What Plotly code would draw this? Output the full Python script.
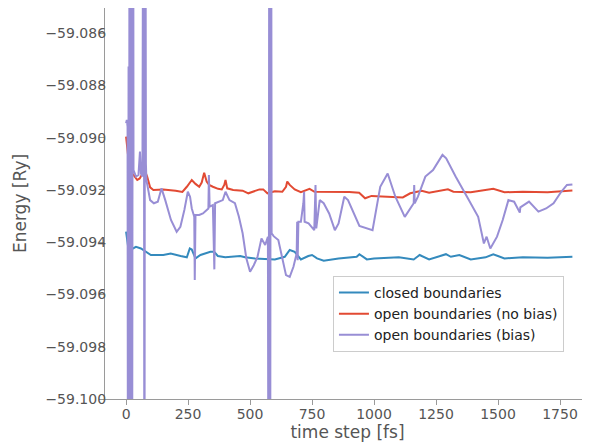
import plotly.graph_objects as go

# closed boundaries
t_closed = [0, 10, 20, 40, 60, 80, 100, 150, 180, 220, 245, 257, 265, 280, 300, 340, 355, 370, 400, 460,
            480, 520, 600, 640, 660, 680, 705, 735, 750, 770, 797, 857, 930, 941, 971, 1000, 1100, 1160,
            1184, 1222, 1290, 1310, 1344, 1390, 1450, 1481, 1526, 1600, 1700, 1800]
e_closed = [-59.09360, -59.09430, -59.09428, -59.09418, -59.09424, -59.09437, -59.09449, -59.09449,
            -59.09443, -59.09453, -59.09458, -59.09424, -59.09428, -59.09462, -59.09449, -59.09437,
            -59.09437, -59.09453, -59.09458, -59.09453, -59.09458, -59.09462, -59.09466, -59.09456,
            -59.09430, -59.09437, -59.09466, -59.09453, -59.09449, -59.09462, -59.09471, -59.09462,
            -59.09456, -59.09446, -59.09466, -59.09462, -59.09458, -59.09466, -59.09449, -59.09466,
            -59.09446, -59.09456, -59.09449, -59.09466, -59.09458, -59.09446, -59.09462, -59.09458,
            -59.09460, -59.09456]

# open boundaries (no bias)
t_nobias = [0, 5, 10, 15, 25, 35, 45, 55, 65, 75, 85, 97, 110, 150, 200, 227, 245, 265, 280, 295, 305,
            315, 325, 335, 350, 371, 386, 396, 401, 408, 432, 470, 493, 520, 538, 553, 570, 600, 630,
            645, 650, 660, 680, 705, 720, 740, 760, 800, 900, 940, 964, 990, 1050, 1116, 1146, 1192,
            1222, 1298, 1320, 1390, 1481, 1526, 1600, 1700, 1800]
e_nobias = [-59.08996, -59.09047, -59.09105, -59.09130, -59.09137, -59.09149, -59.09162, -59.09156,
            -59.09137, -59.09124, -59.09149, -59.09190, -59.09200, -59.09198, -59.09203, -59.09208,
            -59.09188, -59.09162, -59.09177, -59.09188, -59.09172, -59.09134, -59.09168, -59.09181,
            -59.09188, -59.09196, -59.09198, -59.09181, -59.09162, -59.09194, -59.09200, -59.09203,
            -59.09213, -59.09205, -59.09198, -59.09198, -59.09213, -59.09205, -59.09207, -59.09188,
            -59.09168, -59.09181, -59.09198, -59.09209, -59.09203, -59.09196, -59.09207, -59.09207,
            -59.09208, -59.09211, -59.09232, -59.09223, -59.09226, -59.09229, -59.09213, -59.09203,
            -59.09211, -59.09198, -59.09207, -59.09209, -59.09196, -59.09209, -59.09207, -59.09209,
            -59.09202]

# open boundaries (bias)
t_bias = [0, 3, 6, 8, 10, 12, 14, 16, 18, 20, 22, 24, 26, 28, 30, 40, 50, 56, 60, 66, 71, 74, 77, 80,
          82, 97, 112, 128, 143, 158, 181, 204, 219, 235, 249, 258, 265, 275, 277, 280, 295, 310, 325,
          332, 334, 337, 350, 356, 359, 375, 390, 401, 417, 439, 455, 470, 485, 500, 508, 515, 530, 546,
          561, 572, 575, 578, 581, 584, 587, 595, 614, 629, 645, 660, 675, 688, 690, 692, 695, 705, 715,
          718, 720, 736, 759, 764, 767, 781, 797, 819, 842, 857, 880, 895, 918, 941, 994, 1025, 1055,
          1086, 1124, 1146, 1160, 1162, 1164, 1177, 1207, 1238, 1276, 1291, 1329, 1375, 1420, 1443,
          1454, 1469, 1496, 1519, 1542, 1565, 1588, 1590, 1625, 1663, 1694, 1724, 1755, 1778, 1800]
e_bias = [-59.08945, -59.08932, -59.08958, -59.11000, -59.08728, -59.11000, -59.07000, -59.08843,
          -59.11000, -59.07000, -59.08855, -59.11000, -59.08983, -59.07000, -59.09124, -59.09149,
          -59.09143, -59.09053, -59.09137, -59.09149, -59.07000, -59.11000, -59.07000, -59.09100,
          -59.09162, -59.09239, -59.09251, -59.09245, -59.09194, -59.09239, -59.09315, -59.09360,
          -59.09341, -59.09277, -59.09207, -59.09226, -59.09271, -59.09303, -59.09545, -59.09296,
          -59.09296, -59.09290, -59.09277, -59.09271, -59.09143, -59.09264, -59.09258, -59.09504,
          -59.09251, -59.09245, -59.09239, -59.09207, -59.09239, -59.09251, -59.09303, -59.09366,
          -59.09462, -59.09513, -59.09501, -59.09488, -59.09456, -59.09386, -59.09411, -59.09379,
          -59.11000, -59.07000, -59.11000, -59.07000, -59.09366, -59.09377, -59.09392, -59.09456,
          -59.09526, -59.09533, -59.09494, -59.09443, -59.09322, -59.09469, -59.09322, -59.09322,
          -59.09251, -59.09207, -59.09322, -59.09328, -59.09354, -59.09181, -59.09347, -59.09239,
          -59.09251, -59.09290, -59.09354, -59.09328, -59.09226, -59.09239, -59.09290, -59.09338,
          -59.09354, -59.09188, -59.09137, -59.09226, -59.09303, -59.09271, -59.09251, -59.09181,
          -59.09251, -59.09226, -59.09149, -59.09124, -59.09066, -59.09079, -59.09149, -59.09226,
          -59.09303, -59.09405, -59.09379, -59.09424, -59.09379, -59.09315, -59.09239, -59.09245,
          -59.09287, -59.09267, -59.09245, -59.09283, -59.09271, -59.09251, -59.09207, -59.09181,
          -59.09179]

x_ticks = [0, 250, 500, 750, 1000, 1250, 1500, 1750]
y_ticks = [-59.100, -59.098, -59.096, -59.094, -59.092, -59.090, -59.088, -59.086]

names = ["closed boundaries", "open boundaries (no bias)", "open boundaries (bias)"]
colors = ["#348ABD", "#E24A33", "#988ED5"]

fig = go.Figure()
for t, e, n, c in [(t_closed, e_closed, names[0], colors[0]),
                   (t_nobias, e_nobias, names[1], colors[1]),
                   (t_bias, e_bias, names[2], colors[2])]:
    fig.add_trace(go.Scatter(x=t, y=e, mode="lines", name=n, line=dict(color=c, width=2)))

txt = "#555555"
spine = "#9a9a9a"
fig.update_layout(
    width=590, height=444,
    margin=dict(l=97, r=8, t=0, b=53),
    paper_bgcolor="white", plot_bgcolor="white",
    font=dict(family="DejaVu Sans", size=14, color=txt),
    showlegend=True,
    legend=dict(x=0.470, y=0.315, xanchor="left", yanchor="top",
                bgcolor="rgba(255,255,255,0.9)", bordercolor="#cccccc", borderwidth=1,
                font=dict(size=14, color="#222222"), tracegroupgap=0),
)
fig.update_xaxes(range=[-85, 1871], tickvals=x_ticks, ticktext=[str(v) for v in x_ticks],
                 showgrid=False, zeroline=False, showline=True, linecolor=spine, linewidth=1.2,
                 mirror=True, ticks="outside", ticklen=5, tickcolor=spine, tickwidth=1.1,
                 tickfont=dict(size=14, color=txt), ticklabelstandoff=-3,
                 title=dict(text="time step [fs]", font=dict(size=17, color=txt), standoff=2))
fig.update_yaxes(range=[-59.100, -59.08504], tickvals=y_ticks, tickformat=".3f",
                 showgrid=False, zeroline=False, showline=True, linecolor=spine, linewidth=1.2,
                 ticks="outside", ticklen=5, tickcolor=spine, tickwidth=1.1,
                 tickfont=dict(size=14, color=txt), ticklabelstandoff=-10,
                 title=dict(text="Energy [Ry]", font=dict(size=17, color=txt), standoff=14))

fig.write_html("out.html")
